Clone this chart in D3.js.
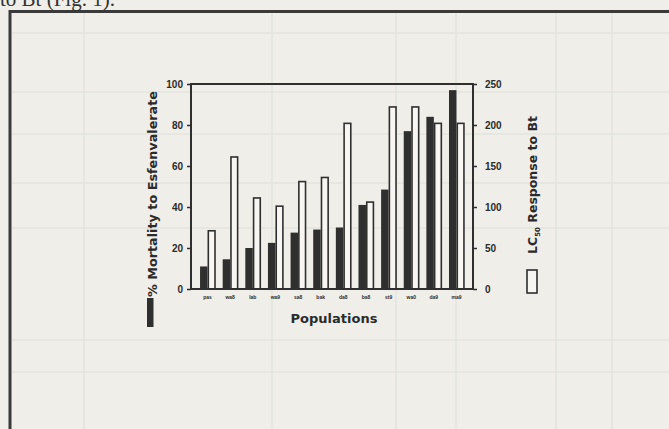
<!DOCTYPE html>
<html>
<head>
<meta charset="utf-8">
<script src="https://cdn.jsdelivr.net/npm/d3@7"></script>
<style>
	body { margin: 0; background: #efeee9; }
	svg { display: block; }
	text { font-family: "Liberation Sans", Arial, sans-serif; font-weight: bold; fill: #2b2b2b; }
	.title { font-family: "DejaVu Sans", sans-serif; font-weight: bold; }
	.caption { font-family: "Liberation Serif", serif; font-weight: normal; fill: #333; }
</style>
</head>
<body>
<div id="chart"></div>
<script>
var populations = ["pas", "wa8", "lab", "wa9", "sa8", "bak", "da8", "ba8", "st9", "wa0", "da9", "ma9"];
var mortality = [11, 14.5, 20, 22.5, 27.5, 29, 30, 41, 48.5, 77, 84, 97];
var lc50 = [71, 161, 111, 101, 131, 136, 202, 106, 222, 222, 202, 202];
var mortalityTicks = [0, 20, 40, 60, 80, 100];
var lc50Ticks = [0, 50, 100, 150, 200, 250];

var width = 669,
	height = 429,
	margin = {left: 191, right: 196, top: 84, bottom: 140},
	plotW = width - margin.left - margin.right,
	plotH = height - margin.top - margin.bottom,
	ink = "#2f2f2f";

var svg = d3.select("#chart")
	.append("svg")
	.attr("width", width)
	.attr("height", height)
;

/*
	scanned page behind the figure
*/
var page = svg.append("g").attr("stroke", "#e0dfd9").attr("stroke-width", 1);
[33, 92, 134, 183, 228, 340, 372].forEach(function(y) {
	page.append("line").attr("x1", 12).attr("x2", width).attr("y1", y).attr("y2", y);
});
[84, 272, 396, 456, 556, 612].forEach(function(x) {
	page.append("line").attr("x1", x).attr("x2", x).attr("y1", 12).attr("y2", height);
});

svg.append("path")
	.attr("d", "M10," + height + "V11.5H" + width)
	.attr("fill", "none")
	.attr("stroke", "#3a3a3a")
	.attr("stroke-width", 3)
;

svg.append("text")
	.attr("class", "caption")
	.attr("x", 0)
	.attr("y", 6)
	.style("font-size", "21px")
	.text("to Bt (Fig. 1).")
;

var xScale = d3.scaleBand()
	.domain(populations)
	.range([0, plotW])
	.paddingInner(0.34)
	.paddingOuter(0.4)
;

var pairScale = d3.scaleBand()
	.domain(["mortality", "lc50"])
	.range([0, xScale.bandwidth()])
;

var yLeft = d3.scaleLinear()
	.domain([0, 100])
	.range([plotH, 0])
;

var yRight = d3.scaleLinear()
	.domain([0, 250])
	.range([plotH, 0])
;

var plot = svg
	.append("g")
	.attr("transform", "translate(" + margin.left + "," + margin.top + ")")
;

var groups = plot.selectAll("g.pop")
	.data(populations)
	.enter()
	.append("g")
	.attr("class", "pop")
	.attr("transform", function(d) { return "translate(" + xScale(d) + ",0)"; })
;

groups.append("rect")
	.attr("x", pairScale("mortality"))
	.attr("width", pairScale.bandwidth())
	.attr("y", function(d, i) { return yLeft(mortality[i]); })
	.attr("height", function(d, i) { return plotH - yLeft(mortality[i]); })
	.attr("fill", ink)
;

groups.append("rect")
	.attr("x", pairScale("lc50") + 0.8)
	.attr("width", pairScale.bandwidth() - 0.8)
	.attr("y", function(d, i) { return yRight(lc50[i]); })
	.attr("height", function(d, i) { return plotH - yRight(lc50[i]); })
	.attr("fill", "#f7f6f2")
	.attr("stroke", ink)
	.attr("stroke-width", 1.6)
;

plot.append("rect")
	.attr("width", plotW)
	.attr("height", plotH)
	.attr("fill", "none")
	.attr("stroke", ink)
	.attr("stroke-width", 2)
;

/*
	axes
*/
var leftAxis = plot.append("g")
	.call(d3.axisLeft(yLeft).tickValues(mortalityTicks).tickSize(4).tickPadding(4))
;
var rightAxis = plot.append("g")
	.attr("transform", "translate(" + plotW + ",0)")
	.call(d3.axisRight(yRight).tickValues(lc50Ticks).tickSize(4).tickPadding(8))
;
var bottomAxis = plot.append("g")
	.attr("transform", "translate(0," + plotH + ")")
	.call(d3.axisBottom(xScale).tickSize(0).tickPadding(6))
;

[leftAxis, rightAxis, bottomAxis].forEach(function(a) {
	a.select(".domain").remove();
	a.selectAll("line").attr("stroke", ink).attr("stroke-width", 1.5);
	a.selectAll("text").style("font-family", "Liberation Sans, sans-serif").style("font-weight", "bold").attr("fill", "#2b2b2b");
});
leftAxis.selectAll("text").style("font-size", "10px");
rightAxis.selectAll("text").style("font-size", "10px");
bottomAxis.selectAll("text").style("font-size", "5px");

/*
	axis titles with their legend keys
*/
svg.append("text")
	.attr("class", "title")
	.attr("transform", "translate(157,194) rotate(-90)")
	.attr("text-anchor", "middle")
	.style("font-size", "12.5px")
	.attr("textLength", 206)
	.attr("lengthAdjust", "spacingAndGlyphs")
	.text("% Mortality to Esfenvalerate")
;
svg.append("rect")
	.attr("x", 147)
	.attr("y", 298)
	.attr("width", 6.5)
	.attr("height", 29)
	.attr("fill", ink)
;

var rightTitle = svg.append("text")
	.attr("class", "title")
	.attr("transform", "translate(537,185) rotate(-90)")
	.attr("text-anchor", "middle")
	.style("font-size", "12.5px")
;
rightTitle.append("tspan").text("LC");
rightTitle.append("tspan").attr("dy", 3).style("font-size", "7px").text("50");
rightTitle.append("tspan").attr("dy", -3).text(" Response to Bt");

svg.append("rect")
	.attr("x", 527)
	.attr("y", 270)
	.attr("width", 10)
	.attr("height", 23)
	.attr("fill", "#f7f6f2")
	.attr("stroke", ink)
	.attr("stroke-width", 1.6)
;

svg.append("text")
	.attr("class", "title")
	.attr("x", margin.left + plotW / 2 + 2)
	.attr("y", 323)
	.attr("text-anchor", "middle")
	.style("font-size", "13px")
	.text("Populations")
;
</script>
</body>
</html>
